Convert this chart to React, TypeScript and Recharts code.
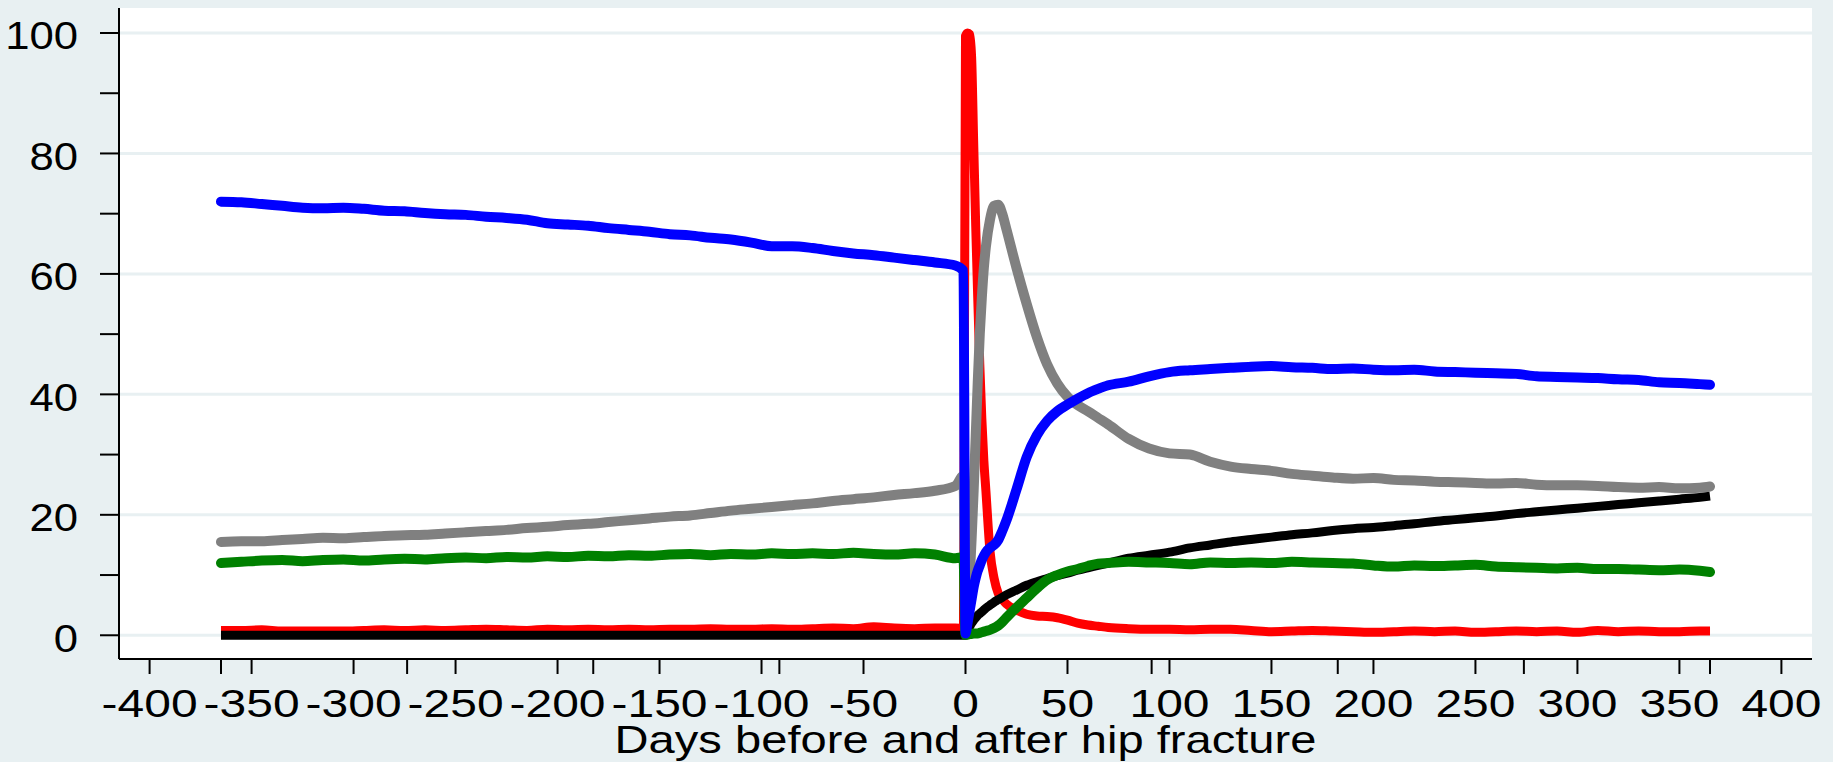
import React from 'react';
import { LineChart, Line, XAxis, YAxis, CartesianGrid } from 'recharts';

// days relative to the hip fracture (day 0)
const preDays = [
  -365, -355, -345, -335, -325, -315, -305, -295, -285, -275, -265, -255, -245,
  -235, -225, -215, -205, -195, -185, -175, -165, -155, -145, -135, -125, -115,
  -105, -95, -85, -75, -65, -55, -45, -35, -25, -15, -5, -1,
];
const postDays = [
  0, 1, 2, 3, 4, 5, 6, 7, 8, 9, 10, 12, 14, 16, 18, 20, 25, 30, 35, 40, 45, 50,
  55, 60, 65, 70, 80, 90, 100, 110, 120, 130, 140, 150, 160, 170, 180, 190, 200,
  210, 220, 230, 240, 250, 260, 270, 280, 290, 300, 310, 320, 330, 340, 350, 360, 365,
];
const days = [...preDays, ...postDays];

const blueValues = [
  72.0, 71.9, 71.6, 71.3, 71.0, 70.9, 71.0, 70.8, 70.5, 70.4, 70.1, 69.9, 69.8,
  69.5, 69.3, 69.0, 68.4, 68.2, 68.0, 67.6, 67.3, 67.0, 66.6, 66.4, 66.0, 65.7,
  65.2, 64.6, 64.6, 64.3, 63.8, 63.4, 63.1, 62.7, 62.3, 61.9, 61.4, 60.5,
  0.3, 2.0, 4.0, 6.0, 8.0, 9.5, 10.7, 11.6, 12.5, 13.2, 13.8, 14.5, 15.0, 15.8,
  17.3, 19.0, 24.2, 29.6, 33.2, 35.6, 37.2, 38.3, 39.3, 40.2, 40.9, 41.5, 42.1,
  43.0, 43.7, 44.0, 44.2, 44.4, 44.6, 44.7, 44.5, 44.4, 44.2, 44.3, 44.1, 44.0,
  44.1, 43.8, 43.7, 43.6, 43.5, 43.4, 43.0, 42.9, 42.8, 42.7, 42.5, 42.4, 42.0,
  41.9, 41.7, 41.6,
];
const grayValues = [
  15.5, 15.6, 15.6, 15.8, 16.0, 16.2, 16.1, 16.3, 16.5, 16.6, 16.7, 16.9, 17.1,
  17.3, 17.5, 17.8, 18.0, 18.3, 18.5, 18.8, 19.1, 19.4, 19.7, 19.9, 20.3, 20.7,
  21.0, 21.3, 21.6, 21.9, 22.3, 22.6, 22.9, 23.3, 23.6, 24.0, 24.8, 26.5,
  0.5, 3.0, 9.0, 16.0, 24.0, 33.0, 42.0, 50.0, 56.0, 61.0, 64.5, 69.0, 71.3,
  71.5, 70.0, 67.5, 61.0, 55.0, 49.5, 45.0, 41.8, 39.6, 38.2, 37.2, 36.1, 35.0,
  32.6, 31.0, 30.2, 30.0, 28.8, 28.0, 27.6, 27.3, 26.8, 26.5, 26.2, 26.0, 26.1,
  25.8, 25.7, 25.5, 25.4, 25.3, 25.2, 25.3, 25.0, 24.9, 24.9, 24.8, 24.6, 24.5,
  24.6, 24.4, 24.5, 24.7,
];
const redValues = [
  0.8, 0.8, 0.9, 0.7, 0.7, 0.7, 0.7, 0.8, 0.9, 0.8, 0.9, 0.8, 0.9, 1.0, 0.9,
  0.8, 1.0, 0.9, 1.0, 0.9, 1.0, 0.9, 1.0, 1.0, 1.1, 1.0, 1.0, 1.1, 1.0, 1.1,
  1.2, 1.1, 1.4, 1.2, 1.1, 1.2, 1.2, 1.1,
  99.5, 100, 99.8, 96, 82, 68, 56, 45, 36, 29, 24, 14, 9.5, 7.0, 6.0, 5.2, 4.2,
  3.5, 3.2, 3.1, 2.9, 2.5, 2.0, 1.7, 1.5, 1.3, 1.1, 1.0, 1.0, 0.9, 1.0, 1.0,
  0.8, 0.6, 0.7, 0.8, 0.7, 0.6, 0.5, 0.6, 0.7, 0.6, 0.7, 0.5, 0.6, 0.7, 0.6,
  0.7, 0.5, 0.8, 0.6, 0.7, 0.6, 0.6, 0.7, 0.7,
];
const greenValues = [
  12.0, 12.2, 12.4, 12.5, 12.3, 12.5, 12.6, 12.4, 12.6, 12.7, 12.6, 12.8, 12.9,
  12.8, 13.0, 12.9, 13.1, 13.0, 13.2, 13.1, 13.3, 13.2, 13.4, 13.5, 13.3, 13.5,
  13.4, 13.6, 13.5, 13.6, 13.5, 13.7, 13.5, 13.4, 13.6, 13.4, 12.8, 13.0,
  0.1, 0.1, 0.2, 0.2, 0.3, 0.3, 0.3, 0.4, 0.5, 0.6, 0.7, 0.9, 1.2, 1.6, 2.2,
  2.9, 4.6, 6.2, 7.8, 9.2, 10.0, 10.6, 11.0, 11.5, 11.9, 12.0, 12.2, 12.1, 12.0,
  11.8, 12.1, 12.0, 12.1, 12.0, 12.2, 12.1, 12.0, 11.9, 11.6, 11.4, 11.6, 11.5,
  11.6, 11.7, 11.4, 11.3, 11.2, 11.1, 11.2, 11.0, 11.0, 10.9, 10.8, 10.9, 10.7,
  10.5,
];
const blackValues = [
  0, 0, 0, 0, 0, 0, 0, 0, 0, 0, 0, 0, 0, 0, 0, 0, 0, 0, 0, 0, 0, 0, 0, 0, 0, 0,
  0, 0, 0, 0, 0, 0, 0, 0, 0, 0, 0, 0,
  0, 0.8, 1.4, 2.0, 2.5, 2.9, 3.3, 3.6, 3.9, 4.2, 4.5, 5.0, 5.5, 5.9, 6.3, 6.7,
  7.5, 8.3, 8.9, 9.4, 9.9, 10.3, 10.8, 11.2, 11.6, 12.0, 12.8, 13.3, 13.8, 14.5,
  15.0, 15.5, 15.9, 16.3, 16.7, 17.0, 17.4, 17.7, 17.9, 18.2, 18.5, 18.9, 19.2,
  19.5, 19.8, 20.2, 20.5, 20.8, 21.1, 21.4, 21.7, 22.0, 22.3, 22.6, 22.9, 23.1,
];

const xLabelTicks = [-400, -350, -300, -250, -200, -150, -100, -50, 0, 50, 100, 150, 200, 250, 300, 350, 400];
const xQuarterTicks = [-365, -273.75, -182.5, -91.25, 91.25, 182.5, 273.75, 365];
const yTicks = [0, 10, 20, 30, 40, 50, 60, 70, 80, 90, 100];
const yGridValues = [0, 20, 40, 60, 80, 100];

const data = days.map((day, i) => ({
  day,
  red: redValues[i],
  gray: grayValues[i],
  black: blackValues[i],
  green: greenValues[i],
  blue: blueValues[i],
}));

const BG = '#e8f0f2';
const FONT = '"Liberation Sans", Arial, sans-serif';

const XTick = (props: any) => {
  const { x, y, payload } = props;
  if (payload.value % 50 !== 0) return null;
  return (
    <text
      transform={`translate(${x},${y}) scale(1.23,1)`}
      textAnchor="middle"
      dy="0.71em"
      fontSize={39}
      fontFamily={FONT}
      fill="#000"
    >
      {payload.value}
    </text>
  );
};

const YTick = (props: any) => {
  const { x, y, payload } = props;
  if (payload.value % 20 !== 0) return null;
  return (
    <text
      transform={`translate(${x},${y}) scale(1.12,1)`}
      textAnchor="end"
      dy="0.42em"
      fontSize={39}
      fontFamily={FONT}
      fill="#000"
    >
      {payload.value}
    </text>
  );
};

const renderXTitle = (props: any) => {
  const vb = props.viewBox;
  const cx = vb.x + vb.width / 2;
  return (
    <text
      transform={`translate(${cx},${vb.y + 94}) scale(1.24,1)`}
      textAnchor="middle"
      fontSize={38}
      fontFamily={FONT}
      fill="#000"
    >
      Days before and after hip fracture
    </text>
  );
};

export default function App() {
  return (
    <div style={{ position: 'absolute', left: 0, top: 0, width: 1833, height: 762, background: BG }}>
      <LineChart width={1833} height={762} data={data} margin={{ top: 8, right: 21, bottom: 0, left: 0 }}>
        <CartesianGrid
          fill="#ffffff"
          vertical={false}
          horizontalValues={yGridValues}
          stroke={BG}
          strokeWidth={3}
        />
        <XAxis
          dataKey="day"
          type="number"
          domain={[-415, 415]}
          ticks={[...xLabelTicks, ...xQuarterTicks].sort((a, b) => a - b)}
          interval={0}
          height={103}
          tickSize={15}
          tickMargin={15}
          tick={<XTick />}
          axisLine={{ stroke: '#000', strokeWidth: 2 }}
          tickLine={{ stroke: '#000', strokeWidth: 2 }}
          label={{ content: renderXTitle }}
        />
        <YAxis
          type="number"
          domain={[-3.94, 104.15]}
          ticks={yTicks}
          interval={0}
          width={119}
          tickSize={19}
          tickMargin={22}
          tick={<YTick />}
          axisLine={{ stroke: '#000', strokeWidth: 2 }}
          tickLine={{ stroke: '#000', strokeWidth: 2 }}
          allowDataOverflow
        />
        <Line dataKey="red" type="monotone" stroke="#ff0000" strokeWidth={9} dot={false} isAnimationActive={false} strokeLinejoin="round" />
        <Line dataKey="gray" type="monotone" stroke="#808080" strokeWidth={10} dot={false} isAnimationActive={false} strokeLinejoin="round" strokeLinecap="round" />
        <Line dataKey="black" type="monotone" stroke="#000000" strokeWidth={9} dot={false} isAnimationActive={false} strokeLinejoin="round" />
        <Line dataKey="green" type="monotone" stroke="#008000" strokeWidth={10} dot={false} isAnimationActive={false} strokeLinejoin="round" strokeLinecap="round" />
        <Line dataKey="blue" type="monotone" stroke="#0000ff" strokeWidth={10} dot={false} isAnimationActive={false} strokeLinejoin="round" strokeLinecap="round" />
      </LineChart>
    </div>
  );
}
